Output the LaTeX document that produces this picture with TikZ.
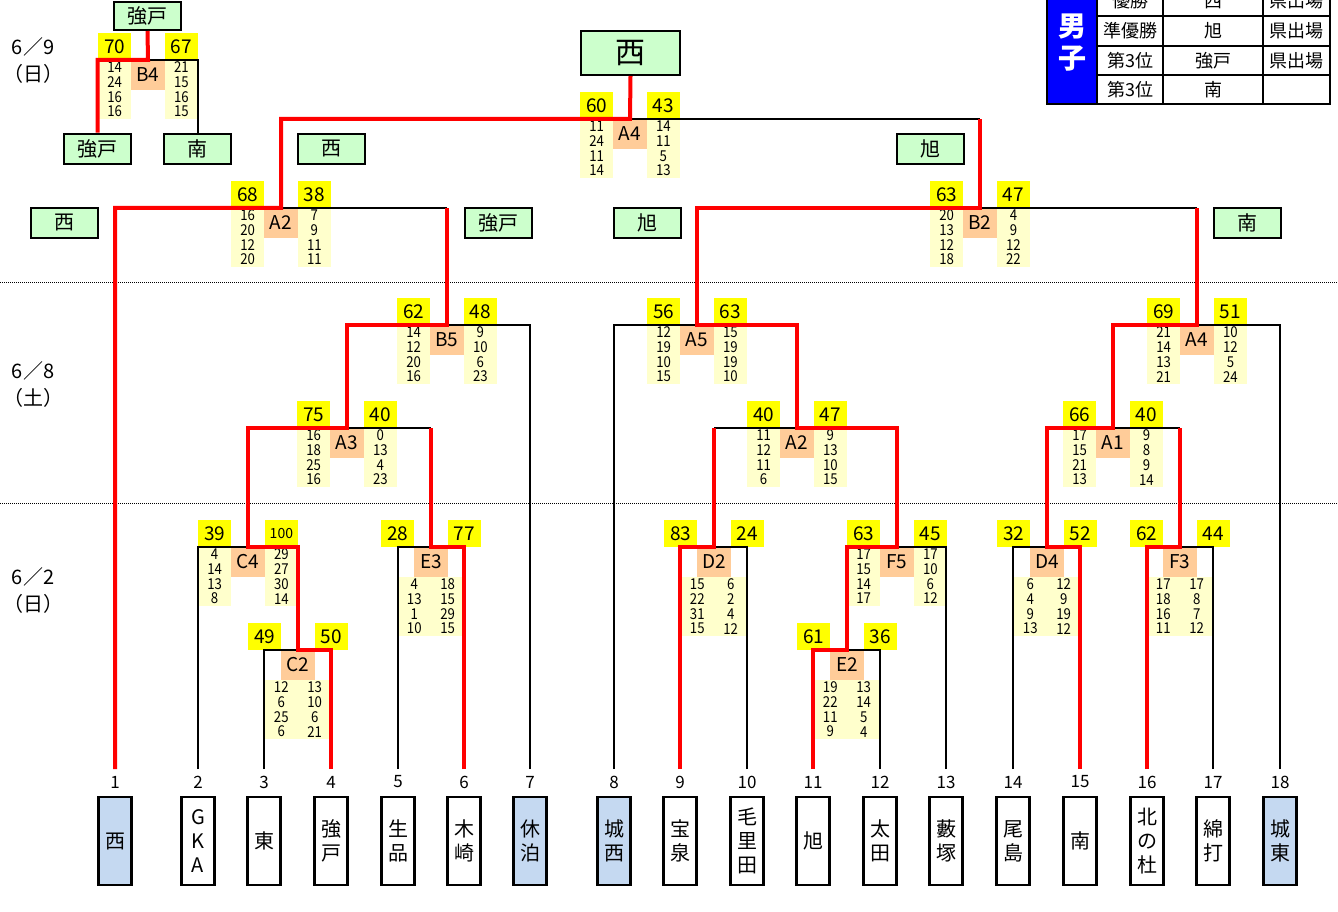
\documentclass[tikz,border=0pt]{standalone}
\usepackage{fontspec}
\setmainfont{Noto Sans CJK JP}
\newfontfamily\setsfont[FakeStretch=0.88]{Noto Sans CJK JP}
\definecolor{scY}{HTML}{FFFF00}
\definecolor{setY}{HTML}{FFFFCC}
\definecolor{labO}{HTML}{FFCC99}
\definecolor{nmG}{HTML}{CCFFCC}
\definecolor{seedB}{HTML}{C5D9F1}
\definecolor{tblB}{HTML}{0000FF}
\definecolor{rdC}{HTML}{FF0000}
% side layout: sets under the score boxes
\newcommand\MatchSide[8]{%
  \node[lab] (#1) at (#2,{#3+15}) {#4};
  \node[sc] (#1a) at ({#2-33.4},{#3-13.5}) {#5};
  \node[sc] (#1b) at ({#2+33.4},{#3-13.5}) {#6};
  \node[sets] (#1c) at ({#2-33.4},{#3+29.5}) {#7};
  \node[sets] (#1d) at ({#2+33.4},{#3+29.5}) {#8};
}
% below layout: sets under the label box
\newcommand\MatchBelow[8]{%
  \node[lab] (#1) at (#2,{#3+15}) {#4};
  \node[sc] (#1a) at ({#2-33.4},{#3-13.5}) {#5};
  \node[sc] (#1b) at ({#2+33.4},{#3-13.5}) {#6};
  \node[sets] (#1c) at ({#2-16.7},{#3+59.5}) {#7};
  \node[sets] (#1d) at ({#2+16.7},{#3+59.5}) {#8};
}
\begin{document}
\begin{tikzpicture}[x=1pt,y=-1pt,
  sc/.style={fill=scY, minimum width=33.4pt, minimum height=27pt, inner sep=0pt, font=\fontsize{19}{19}\selectfont},
  lab/.style={fill=labO, minimum width=33.4pt, minimum height=30pt, inner sep=0pt, font=\fontsize{19}{19}\selectfont},
  sets/.style={fill=setY, minimum width=33.4pt, minimum height=59pt, inner sep=0pt, align=center, font=\setsfont\fontsize{15}{14.7}\selectfont},
  nm/.style={draw, line width=2pt, fill=nmG, minimum width=67pt, minimum height=30pt, inner sep=0pt, font=\fontsize{20}{20}\selectfont},
  tm/.style={draw, line width=2.5pt, minimum width=33pt, minimum height=88pt, inner sep=0pt, align=center, font=\fontsize{20}{24}\selectfont},
  num/.style={inner sep=0pt, font=\fontsize{17}{17}\selectfont},
  dt/.style={inner sep=0pt, font=\fontsize{20}{20}\selectfont},
  tt/.style={inner sep=0pt, font=\fontsize{18}{18}\selectfont},
  bl/.style={line width=2pt, black},
  rd/.style={line width=4pt, rdC},
  dots/.style={line width=0.8pt, dash pattern=on 1pt off 1pt}
]
\useasboundingbox (0,0) rectangle (1338,911);
\clip (0,0) rectangle (1338,911);

% dotted separators
\draw[dots] (0,282) -- (1338,282);
\draw[dots] (0,503) -- (1338,503);

% dates
\node[dt] (d1) at (33,47) {6／9};
\node[dt] (d1b) at (33,74) {（日）};
\node[dt] (d2) at (33,371) {6／8};
\node[dt] (d2b) at (33,398) {（土）};
\node[dt] (d3) at (33,577) {6／2};
\node[dt] (d3b) at (33,604) {（日）};

% results table
\fill[tblB] (1047,-14) rectangle (1097,104);
\draw[line width=2.5pt] (1047,-14) rectangle (1330,104);
\draw[line width=2.5pt] (1097,16) -- (1330,16) (1097,46) -- (1330,46) (1097,75) -- (1330,75);
\draw[line width=2.5pt] (1097,-14) -- (1097,104) (1163,-14) -- (1163,104) (1263,-14) -- (1263,104);
\node[inner sep=0pt, text=white, font=\fontsize{28}{28}\bfseries\selectfont] (dan) at (1072,27) {男};
\node[inner sep=0pt, text=white, font=\fontsize{28}{28}\bfseries\selectfont] (shi) at (1072,59) {子};
\node[tt] (r1a) at (1130,1) {優勝};
\node[tt] (r1b) at (1213,1) {西};
\node[tt] (r1c) at (1296,1) {県出場};
\node[tt] (r2a) at (1130,31) {準優勝};
\node[tt] (r2b) at (1213,31) {旭};
\node[tt] (r2c) at (1296,31) {県出場};
\node[tt] (r3a) at (1130,60.5) {第3位};
\node[tt] (r3b) at (1213,60.5) {強戸};
\node[tt] (r3c) at (1296,60.5) {県出場};
\node[tt] (r4a) at (1130,89.5) {第3位};
\node[tt] (r4b) at (1213,89.5) {南};

% teams
\foreach \i/\x/\t/\f in {1/115/西/seedB, 2/198/{G\\K\\A}/white, 3/264/東/white, 4/331/{強\\戸}/white,
  5/398/{生\\品}/white, 6/464/{木\\崎}/white, 7/530/{休\\泊}/seedB, 8/614/{城\\西}/seedB,
  9/680/{宝\\泉}/white, 10/747/{毛\\里\\田}/white, 11/813/旭/white, 12/880/{太\\田}/white,
  13/946/{藪\\塚}/white, 14/1013/{尾\\島}/white, 15/1080/南/white, 16/1147/{北\\の\\杜}/white,
  17/1213/{綿\\打}/white, 18/1280/{城\\東}/seedB}{
  \node[tm, fill=\f] (tm\i) at (\x,841) {\t};
  \node[num] (n\i) at (\x,782) {\i};
  \coordinate (b\i) at (\x,769);
}

% name boxes
\node[nm] (champ) at (630.5,53) [minimum width=99pt, minimum height=44pt, font=\fontsize{30}{30}\selectfont] {西};
\node[nm, minimum height=28pt] (kt) at (147.5,16) {強戸};
\node[nm] (kb) at (97.5,148.5) {強戸};
\node[nm] (mb) at (197.5,148.5) {南};
\node[nm] (f1) at (331,148.5) {西};
\node[nm] (f2) at (930,148.5) {旭};
\node[nm] (s1) at (64.5,223) {西};
\node[nm] (s2) at (498,223) {強戸};
\node[nm] (s3) at (647,223) {旭};
\node[nm] (s4) at (1247.5,223) {南};

% matches
\MatchSide{B4}{148}{60}{B4}{70}{67}{14\\24\\16\\16}{21\\15\\16\\15}
\MatchSide{A4f}{630}{119}{A4}{60}{43}{11\\24\\11\\14}{14\\11\\5\\13}
\MatchSide{A2t}{281}{208}{A2}{68}{38}{16\\20\\12\\20}{7\\9\\11\\11}
\MatchSide{B2}{980}{208}{B2}{63}{47}{20\\13\\12\\18}{4\\9\\12\\22}
\MatchSide{B5}{447}{325}{B5}{62}{48}{14\\12\\20\\16}{9\\10\\6\\23}
\MatchSide{A5}{697}{325}{A5}{56}{63}{12\\19\\10\\15}{15\\19\\19\\10}
\MatchSide{A4r}{1197}{325}{A4}{69}{51}{21\\14\\13\\21}{10\\12\\5\\24}
\MatchSide{A3}{347}{428}{A3}{75}{40}{16\\18\\25\\16}{0\\13\\4\\23}
\MatchSide{A2m}{797}{428}{A2}{40}{47}{11\\12\\11\\6}{9\\13\\10\\15}
\MatchSide{A1}{1113}{428}{A1}{66}{40}{17\\15\\21\\13}{9\\8\\9\\14}
\MatchSide{C4}{248}{547}{C4}{39}{{\fontsize{14}{14}\selectfont 100}}{4\\14\\13\\8}{29\\27\\30\\14}
\MatchSide{F5}{897}{547}{F5}{63}{45}{17\\15\\14\\17}{17\\10\\6\\12}
\MatchBelow{E3}{431}{547}{E3}{28}{77}{4\\13\\1\\10}{18\\15\\29\\15}
\MatchBelow{D2}{714}{547}{D2}{83}{24}{15\\22\\31\\15}{6\\2\\4\\12}
\MatchBelow{D4}{1047}{547}{D4}{32}{52}{6\\4\\9\\13}{12\\9\\19\\12}
\MatchBelow{F3}{1180}{547}{F3}{62}{44}{17\\18\\16\\11}{17\\8\\7\\12}
\MatchBelow{C2}{298}{650}{C2}{49}{50}{12\\6\\25\\6}{13\\10\\6\\21}
\MatchBelow{E2}{847}{650}{E2}{61}{36}{19\\22\\11\\9}{13\\14\\5\\4}

% black connectors (losers)
\draw[bl] (b2) |- (C4.north);
\draw[bl] (b3) |- (C2.north);
\draw[bl] (b5) |- (E3.north);
\draw[bl] (b7) |- (B5.north);
\draw[bl] (b8) |- (A5.north);
\draw[bl] (b10) |- (D2.north);
\draw[bl] (b12) |- (E2.north);
\draw[bl] (b13) |- (F5.north);
\draw[bl] (b14) |- (D4.north);
\draw[bl] (b17) |- (F3.north);
\draw[bl] (b18) |- (A4r.north);
\draw[bl] (E3.north |- A3.north) -- (A3.north);
\draw[bl] (D2.north |- A2m.north) -- (A2m.north);
\draw[bl] (F3.north |- A1.north) -- (A1.north);
\draw[bl] (B5.north |- A2t.north) -- (A2t.north);
\draw[bl] (A4r.north |- B2.north) -- (B2.north);
\draw[bl] (B2.north |- A4f.north) -- (A4f.north);
\draw[bl] (mb.north) |- (B4.north);

% red connectors (winners)
\draw[rd] (b4) |- (C2.north) |- (C4.north) |- (A3.north) |- (B5.north) -- (B5.north |- A2t.north);
\draw[rd] (b6) |- (E3.north) -- (E3.north |- A3.north);
\draw[rd] (b1) |- (A2t.north) |- (A4f.north) -- (champ.south);
\draw[rd] (b9) |- (D2.north) -- (D2.north |- A2m.north);
\draw[rd] (b11) |- (E2.north) |- (F5.north) |- (A2m.north) |- (A5.north) |- (B2.north) -- (B2.north |- A4f.north);
\draw[rd] (b15) |- (D4.north) |- (A1.north) |- (A4r.north) -- (A4r.north |- B2.north);
\draw[rd] (b16) |- (F3.north) -- (F3.north |- A1.north);
\draw[rd] (kb.north) |- (B4.north) -- (kt.south);
\end{tikzpicture}
\end{document}
